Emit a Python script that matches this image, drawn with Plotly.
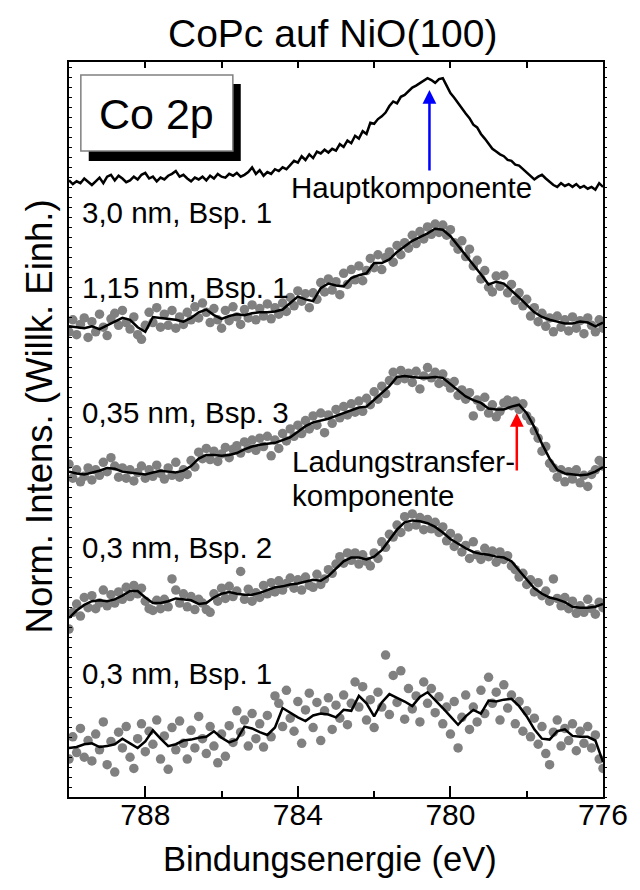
import numpy as np
import plotly.graph_objects as go

# ---------------- data (intensity in arbitrary units, energy in eV) ----------------
# 3,0 nm, Bsp. 1 : line only, 0.1 eV steps from 790 to 776
line_30 = [607,603,606,604,609,605,602,606,610,604,
           611,613,607,612,609,605,607,611,608,613,
           615,609,611,606,610,608,612,614,617,611,
           613,609,606,610,608,611,607,612,609,614,
           611,610,614,612,615,611,613,616,621,614,
           618,612,616,614,619,617,621,619,623,628,
           626,633,629,635,631,638,636,640,637,641,
           639,646,643,650,647,655,652,660,657,669,
           668,673,676,680,687,692,690,697,699,703,
           707,709,712,715,717,715,712,716,717,709,
           701,696,690,685,679,674,667,664,657,652,
           647,641,638,635,633,629,628,624,623,619,
           615,612,608,611,613,609,605,602,600,604,
           601,603,600,603,599,601,598,600,597,604,
           600]

# 1,15 nm, Bsp. 1 : smoothed line (0.2 eV) and measured points (0.1 eV)
line_115 = [461,460,459,461,458,462,466,470,468,460,
            455,471,470,469,468,466,470,476,479,473,
            469,472,474,473,475,476,476,477,479,486,
            493,490,488,502,507,505,504,513,516,518,
            529,529,533,541,547,553,557,561,566,565,
            558,548,538,528,517,506,509,507,500,492,
            484,476,471,468,466,464,464,466,465,461,
            465]
pts_115 = [455,468,452,463,470,449,466,455,474,460,
           451,469,475,462,478,465,458,471,452,447,
           462,476,465,481,460,474,462,478,459,471,
           463,476,468,482,470,486,476,465,480,468,
           459,478,467,482,471,463,479,470,484,468,
           480,472,485,469,481,474,486,477,492,483,
           499,488,496,481,497,490,508,498,512,500,
           509,495,518,506,522,511,526,510,521,534,
           524,538,522,535,541,530,548,538,551,545,
           559,550,563,555,568,560,571,562,570,559,
           565,551,544,553,536,544,526,532,512,521,
           503,498,515,504,516,497,506,489,497,483,
           490,472,481,466,475,461,470,455,472,460,
           468,456,471,459,467,453,470,462,455,468,
           459]

# 0,35 nm, Bsp. 3
line_035 = [316,314,313,315,317,320,319,316,315,314,
            313,315,317,316,315,317,322,330,334,334,
            333,334,336,340,343,345,346,347,350,353,
            359,365,369,371,373,376,379,382,385,386,
            393,401,408,418,419,418,417,417,418,417,
            410,403,397,393,390,384,383,383,386,388,
            379,364,346,330,318,314,313,312,313,316,
            321]
pts_035 = [324,309,318,305,311,320,307,318,312,326,
           316,331,322,310,320,309,318,306,315,322,
           309,318,311,323,314,308,320,312,326,310,
           318,313,328,321,337,330,341,329,338,327,
           335,342,331,340,344,336,348,341,350,339,
           352,343,354,333,350,341,357,349,362,354,
           366,357,371,362,376,366,379,358,377,368,
           383,374,386,377,389,380,392,381,395,388,
           402,394,408,400,414,423,414,425,416,422,
           412,424,405,419,428,417,423,411,421,412,
           406,413,398,404,394,401,376,393,386,396,
           379,388,375,381,390,393,387,392,383,389,
           376,371,360,352,338,343,325,320,310,318,
           305,316,308,318,304,312,300,313,318,328,
           322]

# 0,3 nm, Bsp. 2
line_03b2 = [170,178,184,188,189,188,190,194,199,199,
             192,186,186,188,191,190,189,185,186,192,
             196,198,196,195,195,197,200,203,204,206,
             207,209,211,210,215,223,231,235,235,233,
             236,243,254,265,273,275,274,272,268,262,
             255,250,245,241,239,238,236,235,231,221,
             212,202,196,192,190,187,182,181,181,182,
             185]
pts_03b2 = [158,176,185,172,192,181,194,180,186,200,
            183,195,186,198,190,203,193,205,196,202,
            188,180,178,189,180,190,182,212,200,186,
            196,182,193,179,190,186,179,176,196,188,
            202,191,204,193,199,220,190,201,188,197,
            192,205,196,208,198,210,200,207,213,202,
            211,200,214,205,203,217,206,212,222,218,
            228,236,229,240,232,240,228,238,231,226,
            240,234,252,246,260,257,270,262,279,268,
            282,270,278,265,276,266,273,262,268,253,
            261,247,256,241,248,234,252,238,233,245,
            236,242,230,241,233,237,226,222,214,218,
            206,211,198,208,194,199,188,212,191,183,
            192,180,188,175,183,176,190,180,174,187,
            181]

# 0,3 nm, Bsp. 1
line_03b1 = [40,41,44,45,41,42,44,50,45,40,
             47,59,50,42,44,48,49,51,52,58,
             51,46,49,63,61,57,54,62,83,78,
             73,69,75,77,76,73,81,80,96,88,
             74,89,98,94,90,85,95,100,92,83,
             74,65,74,81,77,91,90,92,93,85,
             74,60,50,49,58,60,53,52,52,48,
             25]
pts_03b1 = [28,52,35,61,30,48,26,55,38,68,
            22,47,14,57,40,63,30,18,50,66,
            36,58,44,70,28,53,17,62,38,69,
            45,28,59,40,74,50,34,63,42,24,
            55,31,64,46,80,57,70,42,77,50,
            66,41,75,52,96,88,63,102,72,58,
            90,45,81,99,62,89,48,80,94,60,
            86,72,97,65,88,111,84,106,70,92,
            62,100,84,140,76,118,89,123,71,104,
            82,96,68,111,88,104,78,95,66,84,
            55,90,40,73,97,60,84,68,102,77,
            116,88,100,70,108,83,97,66,90,58,
            80,52,72,44,63,34,22,57,70,42,
            61,48,66,37,58,45,63,40,54,28,
            18]

E_START, E_END = 790.0, 776.0
x_tickvals = [788, 784, 780, 776]
x_minorvals = [786, 782, 778]
labels = ["3,0 nm, Bsp. 1", "1,15 nm, Bsp. 1", "0,35 nm, Bsp. 3",
          "0,3 nm, Bsp. 2", "0,3 nm, Bsp. 1"]

# stacking of the spectra (display scale and per-spectrum vertical offset)
STACK_SCALE = 0.9287
STACK_OFFSET = [52.9, 42.6, 31.9, 21.2, 11.9]


def grid(arr):
    return np.linspace(E_START, E_END, len(arr))


def stack(arr, i):
    return [STACK_SCALE * v + STACK_OFFSET[i] for v in arr]


# ---------------- layout geometry (pixels) ----------------
W, H = 640, 890
PL, PR, PT, PB = 69, 610, 62, 797
YMAX = PB - PT


def fx(p):
    return (p - PL) / (PR - PL)


def fy(p):
    return (PB - p) / (PB - PT)


FONT = "Liberation Sans, Arial, sans-serif"
GRAY = "#808080"

fig = go.Figure()

for i, pts in [(1, pts_115), (2, pts_035), (3, pts_03b2), (4, pts_03b1)]:
    fig.add_trace(go.Scatter(x=grid(pts), y=stack(pts, i), mode="markers",
                             marker=dict(color=GRAY, size=9.5, line=dict(width=0)),
                             hoverinfo="skip", showlegend=False))

for i, ln in enumerate([line_30, line_115, line_035, line_03b2, line_03b1]):
    fig.add_trace(go.Scatter(x=grid(ln), y=stack(ln, i), mode="lines",
                             line=dict(color="black", width=2.5),
                             hoverinfo="skip", showlegend=False))

# helper trace for the secondary (top / right) axes
fig.add_trace(go.Scatter(x=[E_START], y=[0], xaxis="x2", yaxis="y2", mode="markers",
                         marker=dict(opacity=0), hoverinfo="skip", showlegend=False))

fig.update_layout(
    width=W, height=H,
    margin=dict(l=PL, r=W - PR, t=PT, b=H - PB),
    paper_bgcolor="white", plot_bgcolor="white",
    font=dict(family=FONT, color="black"),
    xaxis=dict(range=[E_START, E_END], tickvals=x_tickvals, ticks="inside",
               ticklen=11, tickwidth=1.5, tickcolor="black", ticklabelstandoff=-10,
               tickfont=dict(size=30, family=FONT), showline=True, mirror=True,
               minor=dict(tickvals=x_minorvals, ticks="inside", ticklen=6,
                          tickwidth=1.5, tickcolor="black"),
               showgrid=False, zeroline=False, linecolor="black", linewidth=2),
    xaxis2=dict(range=[E_START, E_END], overlaying="x", side="top",
                tickvals=x_tickvals[:-1] + x_minorvals, ticks="inside", ticklen=6,
                tickwidth=1.5, tickcolor="black", showticklabels=False,
                showline=False, showgrid=False, zeroline=False),
    yaxis=dict(range=[0, YMAX], dtick=10, tick0=0, ticks="inside", ticklen=3,
               tickwidth=1, tickcolor="black", showticklabels=False,
               showline=True, mirror=True, showgrid=False, zeroline=False,
               linecolor="black", linewidth=2),
    yaxis2=dict(range=[0, YMAX], overlaying="y", side="right", dtick=10, tick0=0,
                ticks="outside", ticklen=3, tickwidth=1, tickcolor="black",
                showticklabels=False, showline=False, showgrid=False, zeroline=False),
)

# "Co 2p" box with shadow
fig.add_shape(type="rect", xref="paper", yref="paper",
              x0=fx(89), x1=fx(243), y0=fy(161), y1=fy(84),
              fillcolor="black", line=dict(width=0))
fig.add_shape(type="rect", xref="paper", yref="paper",
              x0=fx(81), x1=fx(235), y0=fy(151), y1=fy(75),
              fillcolor="white", line=dict(color=GRAY, width=1.5))

ann = []
ann.append(dict(text="Co 2p", x=fx(158), y=fy(114), xanchor="center", yanchor="middle",
                font=dict(size=43)))
ann.append(dict(text="CoPc auf NiO(100)", x=fx(336), y=fy(34), xanchor="center",
                yanchor="middle", font=dict(size=39)))
ann.append(dict(text="Bindungsenergie (eV)", x=fx(333), y=fy(859), xanchor="center",
                yanchor="middle", font=dict(size=34.5)))
ann.append(dict(text="Norm. Intens. (Willk. Einh.)", x=fx(39), y=fy(416),
                xanchor="center", yanchor="middle", textangle=-90, font=dict(size=36.5)))
label_y = [212, 287, 413, 547, 673]
for t, yy in zip(labels, label_y):
    ann.append(dict(text=t, x=fx(80), y=fy(yy), xanchor="left", yanchor="middle",
                    font=dict(size=29.5)))
ann.append(dict(text="Hauptkomponente", x=fx(292), y=fy(188), xanchor="left",
                yanchor="middle", font=dict(size=29.5)))
ann.append(dict(text="Ladungstransfer-", x=fx(293), y=fy(462), xanchor="left",
                yanchor="middle", font=dict(size=29.5)))
ann.append(dict(text="komponente", x=fx(293), y=fy(495), xanchor="left",
                yanchor="middle", font=dict(size=29.5)))
for a in ann:
    a.update(xref="paper", yref="paper", showarrow=False)

# arrows (tip at data position, tail offset in pixels)
ann.append(dict(x=780.55, y=PB - 90, xref="x", yref="y", ax=0, ay=82, text="",
                showarrow=True, arrowhead=2, arrowsize=1.1, arrowwidth=2.5,
                arrowcolor="#0000ff"))
ann.append(dict(x=778.26, y=PB - 413, xref="x", yref="y", ax=0, ay=59, text="",
                showarrow=True, arrowhead=2, arrowsize=1.1, arrowwidth=2.5,
                arrowcolor="#ff0000"))
fig.update_layout(annotations=ann)

fig.write_html("out.html", config={"displayModeBar": False},
               post_script="document.body.style.margin='0';")
